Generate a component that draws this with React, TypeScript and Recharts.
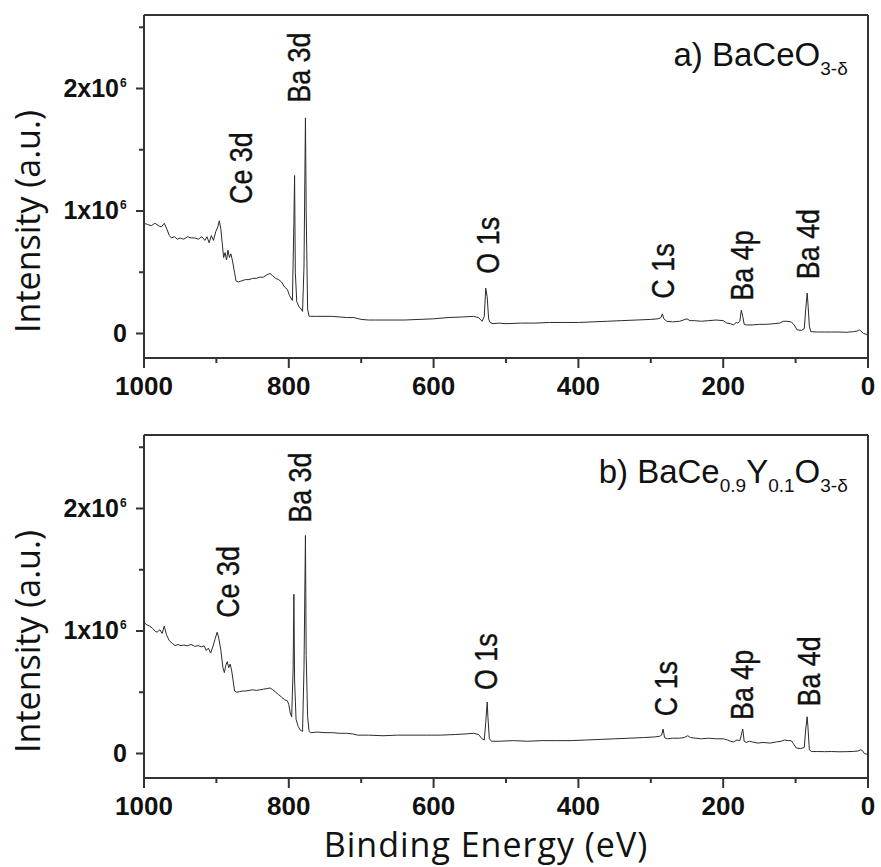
import React from 'react';
import { LineChart, Line, XAxis, YAxis, ReferenceDot, ReferenceLine } from 'recharts';

// ---------- data (intensity in units of 10^6 counts) ----------
const energyA = [1000, 995, 990, 985, 980, 976, 972, 969, 965, 962, 958, 954, 950, 945, 940, 935, 930, 925, 920, 916, 913, 910, 907, 904, 901, 898, 896, 894, 892, 890, 888, 886, 884, 882, 880, 878, 875, 873, 870, 865, 860, 855, 850, 845, 840, 835, 830, 826, 822, 818, 814, 810, 806, 802, 799, 797, 795, 793, 792, 791, 789, 786, 783, 781, 779, 777, 776, 774, 772, 770, 765, 760, 750, 740, 730, 720, 710, 700, 690, 680, 660, 640, 620, 600, 580, 560, 545, 538, 533, 530, 528, 526, 524, 522, 518, 510, 500, 480, 460, 440, 420, 400, 380, 360, 340, 320, 300, 290, 286, 284, 282, 278, 270, 260, 255, 250, 246, 240, 230, 220, 210, 200, 195, 190, 186, 182, 180, 177, 175, 173, 171, 168, 160, 150, 140, 130, 122, 117, 112, 106, 102, 98, 92, 88, 86, 84, 83, 81, 79, 70, 60, 50, 40, 30, 20, 15, 12, 10, 6, 3, 0];
const intensityA = [0.90, 0.89, 0.88, 0.90, 0.88, 0.87, 0.90, 0.86, 0.80, 0.78, 0.79, 0.77, 0.78, 0.77, 0.79, 0.78, 0.78, 0.77, 0.79, 0.76, 0.79, 0.74, 0.80, 0.76, 0.83, 0.87, 0.92, 0.86, 0.74, 0.62, 0.66, 0.60, 0.68, 0.62, 0.65, 0.60, 0.50, 0.43, 0.42, 0.43, 0.44, 0.44, 0.45, 0.45, 0.46, 0.46, 0.48, 0.49, 0.47, 0.45, 0.44, 0.42, 0.38, 0.36, 0.31, 0.29, 0.27, 0.90, 1.29, 0.50, 0.26, 0.22, 0.20, 0.18, 0.55, 1.76, 1.00, 0.20, 0.14, 0.14, 0.14, 0.14, 0.14, 0.14, 0.135, 0.13, 0.13, 0.115, 0.11, 0.11, 0.11, 0.11, 0.115, 0.12, 0.13, 0.135, 0.14, 0.13, 0.10, 0.14, 0.37, 0.30, 0.12, 0.09, 0.08, 0.085, 0.08, 0.085, 0.085, 0.09, 0.09, 0.09, 0.095, 0.10, 0.105, 0.11, 0.115, 0.12, 0.13, 0.16, 0.12, 0.10, 0.095, 0.10, 0.11, 0.12, 0.105, 0.105, 0.10, 0.105, 0.11, 0.105, 0.085, 0.08, 0.07, 0.09, 0.085, 0.10, 0.19, 0.14, 0.075, 0.07, 0.07, 0.075, 0.075, 0.08, 0.085, 0.10, 0.10, 0.095, 0.07, 0.03, 0.025, 0.04, 0.20, 0.33, 0.25, 0.06, 0.015, 0.012, 0.012, 0.012, 0.012, 0.01, 0.015, 0.02, 0.03, 0.02, 0.0, -0.005, -0.01];

const energyB = [1000, 996, 992, 988, 985, 982, 978, 975, 972, 969, 965, 961, 957, 953, 949, 945, 940, 935, 930, 925, 920, 917, 914, 911, 908, 905, 902, 899, 897, 894, 891, 889, 887, 885, 883, 881, 879, 877, 875, 872, 868, 864, 860, 855, 850, 845, 840, 835, 830, 826, 822, 818, 814, 810, 806, 802, 800, 798, 796, 794, 793, 792, 790, 787, 784, 781, 779, 777, 776, 774, 772, 770, 760, 750, 740, 730, 720, 712, 705, 690, 670, 650, 630, 610, 590, 570, 555, 545, 538, 533, 530, 528, 526, 525, 523, 520, 510, 490, 470, 450, 430, 410, 390, 370, 350, 330, 310, 295, 288, 285, 283, 281, 277, 270, 260, 254, 249, 245, 238, 230, 220, 210, 200, 194, 190, 186, 181, 177, 175, 173, 171, 168, 164, 160, 152, 145, 135, 126, 120, 115, 110, 106, 103, 99, 93, 88, 86, 84, 83, 81, 78, 70, 60, 50, 40, 30, 20, 14, 10, 8, 5, 2, 0];
const intensityB = [1.07, 1.05, 1.04, 1.02, 1.00, 0.99, 1.01, 0.98, 1.04, 0.97, 0.92, 0.90, 0.88, 0.89, 0.88, 0.885, 0.88, 0.89, 0.875, 0.88, 0.87, 0.88, 0.84, 0.86, 0.82, 0.87, 0.93, 0.99, 0.95, 0.85, 0.70, 0.66, 0.72, 0.75, 0.70, 0.73, 0.68, 0.60, 0.51, 0.50, 0.505, 0.51, 0.51, 0.515, 0.52, 0.515, 0.52, 0.525, 0.53, 0.535, 0.52, 0.50, 0.48, 0.46, 0.44, 0.43, 0.40, 0.33, 0.30, 0.70, 1.30, 0.60, 0.28, 0.22, 0.19, 0.18, 0.70, 1.78, 0.80, 0.30, 0.18, 0.17, 0.175, 0.17, 0.17, 0.165, 0.165, 0.16, 0.15, 0.15, 0.145, 0.15, 0.15, 0.15, 0.15, 0.155, 0.16, 0.165, 0.155, 0.12, 0.11, 0.25, 0.42, 0.30, 0.12, 0.10, 0.10, 0.105, 0.10, 0.105, 0.105, 0.105, 0.11, 0.115, 0.12, 0.125, 0.13, 0.135, 0.14, 0.15, 0.20, 0.13, 0.12, 0.125, 0.125, 0.13, 0.145, 0.13, 0.125, 0.12, 0.125, 0.12, 0.12, 0.11, 0.10, 0.095, 0.11, 0.105, 0.15, 0.20, 0.10, 0.09, 0.10, 0.095, 0.085, 0.09, 0.085, 0.095, 0.10, 0.11, 0.105, 0.105, 0.08, 0.045, 0.04, 0.05, 0.20, 0.30, 0.22, 0.03, 0.016, 0.016, 0.015, 0.016, 0.014, 0.015, 0.017, 0.02, 0.03, 0.025, 0.0, -0.005, -0.01];

const xTicks = [0, 100, 200, 300, 400, 500, 600, 700, 800, 900, 1000];
const yTicks = [0, 0.5, 1, 1.5, 2, 2.5];
const xDomain = [0, 1000];
const yDomain = [-0.2, 2.6];

const peakNames = ['Ce 3d', 'Ba 3d', 'O 1s', 'C 1s', 'Ba 4p', 'Ba 4d'];
const labelEnergyA = [867, 787, 526, 283, 175, 83];
const labelLevelA = [1.35, 2.17, 0.72, 0.51, 0.555, 0.73];
const labelEnergyB = [885, 785, 528, 280, 174, 82];
const labelLevelB = [1.40, 2.17, 0.75, 0.53, 0.56, 0.67];

const titleA: [string, boolean][] = [['a) BaCeO', false], ['3-δ', true]];
const titleB: [string, boolean][] = [['b) BaCe', false], ['0.9', true], ['Y', false], ['0.1', true], ['O', false], ['3-δ', true]];
const titleEnergy = 28;
const titleLevelA = 2.18;
const titleLevelB = 2.21;

const toRows = (xs: number[], ys: number[]) => xs.map((e, i) => ({ energy: e, intensity: ys[i] }));
const dataA = toRows(energyA, intensityA);
const dataB = toRows(energyB, intensityB);

// ---------- styling ----------
const INK = '#111';
const FRAME = '#333';
const TICK_FONT = "'Liberation Sans', Arial, sans-serif";
const TITLE_FONT = "'Open Sans', 'Noto Sans', sans-serif";

const XTick = (props: any) => {
  const { x, y, payload } = props;
  const major = payload.value % 200 === 0;
  return (
    <g>
      <line x1={x} x2={x} y1={y} y2={y + (major ? 10 : 5)} stroke={FRAME} strokeWidth={2} />
      {major && (
        <text x={x} y={y + 37} textAnchor="middle" fontFamily={TICK_FONT} fontWeight="bold" fontSize={26} fill={INK}>
          {payload.value}
        </text>
      )}
    </g>
  );
};

const YTick = (props: any) => {
  const { x, y, payload } = props;
  const v = payload.value;
  const major = Number.isInteger(v);
  return (
    <g>
      <line x1={x - (major ? 8 : 5)} x2={x} y1={y} y2={y} stroke={FRAME} strokeWidth={2} />
      {major && (
        <text x={v === 0 ? x - 17 : x - 25} y={y + 8} textAnchor="end" fontFamily={TICK_FONT} fontWeight="bold" fontSize={25} fill={INK}>
          {v === 0 ? '0' : `${v}x10`}
        </text>
      )}
      {major && v !== 0 && (
        <text x={x - 24} y={y - 2} textAnchor="start" fontFamily={TICK_FONT} fontWeight="bold" fontSize={12} fill={INK}>
          6
        </text>
      )}
    </g>
  );
};

const YTitle = (props: any) => {
  const { viewBox } = props;
  const cx = viewBox.x + 40;
  const cy = viewBox.y + viewBox.height / 2 + 35;
  return (
    <text x={cx} y={cy} transform={`rotate(-90, ${cx}, ${cy})`} textAnchor="middle" fontFamily={TITLE_FONT} fontSize={34} fill={INK}>
      Intensity (a.u.)
    </text>
  );
};

const XTitle = (props: any) => {
  const { viewBox } = props;
  const cx = viewBox.x + viewBox.width / 2 - 20;
  const cy = viewBox.y + 79;
  return (
    <text x={cx} y={cy} textAnchor="middle" fontFamily={TITLE_FONT} fontSize={34} letterSpacing={1} fill={INK}>
      Binding Energy (eV)
    </text>
  );
};

const makePeakLabel = (text: string) => (props: any) => {
  const { viewBox } = props;
  const cx = viewBox.x + viewBox.width / 2;
  const cy = viewBox.y + viewBox.height / 2;
  return (
    <text
      x={0}
      y={0}
      transform={`translate(${cx}, ${cy}) rotate(-90) scale(0.84, 1)`}
      textAnchor="middle"
      dominantBaseline="central"
      fontFamily={TICK_FONT}
      fontSize={32}
      fill={INK}
      stroke={INK}
      strokeWidth={0.4}
    >
      {text}
    </text>
  );
};

const makeTitleLabel = (parts: [string, boolean][]) => (props: any) => {
  const { viewBox } = props;
  const cx = viewBox.x + viewBox.width / 2;
  const cy = viewBox.y + viewBox.height / 2;
  let prevSub = false;
  return (
    <text x={cx} y={cy} textAnchor="end" fontFamily={TICK_FONT} fontSize={33} fill={INK}>
      {parts.map(([s, sub], i) => {
        const dy = (sub ? 9 : 0) - (prevSub ? 9 : 0);
        prevSub = sub;
        return (
          <tspan key={i} dy={dy} fontSize={sub ? 19 : 33}>
            {s}
          </tspan>
        );
      })}
    </text>
  );
};

type PanelProps = {
  data: { energy: number; intensity: number }[];
  height: number;
  xAxisHeight: number;
  labelEnergy: number[];
  labelLevel: number[];
  title: [string, boolean][];
  titleLevel: number;
  showXTitle: boolean;
};

const Panel = ({ data, height, xAxisHeight, labelEnergy, labelLevel, title, titleLevel, showXTitle }: PanelProps) => (
  <LineChart width={881} height={height} data={data} margin={{ top: 15, right: 13, bottom: 0, left: 0 }}>
    <XAxis
      dataKey="energy"
      type="number"
      domain={xDomain}
      reversed
      ticks={xTicks}
      interval={0}
      height={xAxisHeight}
      tickSize={0}
      tickMargin={0}
      tick={<XTick />}
      axisLine={{ stroke: FRAME, strokeWidth: 2 }}
      label={showXTitle ? { content: XTitle } : undefined}
    />
    <YAxis
      type="number"
      domain={yDomain}
      ticks={yTicks}
      interval={0}
      width={144}
      tickSize={0}
      tickMargin={0}
      tick={<YTick />}
      axisLine={{ stroke: FRAME, strokeWidth: 2 }}
      label={{ content: YTitle }}
    />
    <ReferenceLine y={yDomain[1]} stroke={FRAME} strokeWidth={2} ifOverflow="visible" />
    <ReferenceLine x={xDomain[0]} stroke={FRAME} strokeWidth={2} ifOverflow="visible" />
    <Line type="linear" dataKey="intensity" stroke="#2b2b2b" strokeWidth={1} dot={false} isAnimationActive={false} />
    {peakNames.map((name, i) => (
      <ReferenceDot key={name} x={labelEnergy[i]} y={labelLevel[i]} r={0} fill="none" stroke="none" label={{ content: makePeakLabel(name) }} />
    ))}
    <ReferenceDot x={titleEnergy} y={titleLevel} r={0} fill="none" stroke="none" label={{ content: makeTitleLabel(title) }} />
  </LineChart>
);

export default function App() {
  return (
    <div style={{ position: 'absolute', left: 0, top: 0, width: 881, height: 867, background: '#fff' }}>
      <Panel data={dataA} height={420} xAxisHeight={62} labelEnergy={labelEnergyA} labelLevel={labelLevelA} title={titleA} titleLevel={titleLevelA} showXTitle={false} />
      <Panel data={dataB} height={447} xAxisHeight={89} labelEnergy={labelEnergyB} labelLevel={labelLevelB} title={titleB} titleLevel={titleLevelB} showXTitle={true} />
    </div>
  );
}
